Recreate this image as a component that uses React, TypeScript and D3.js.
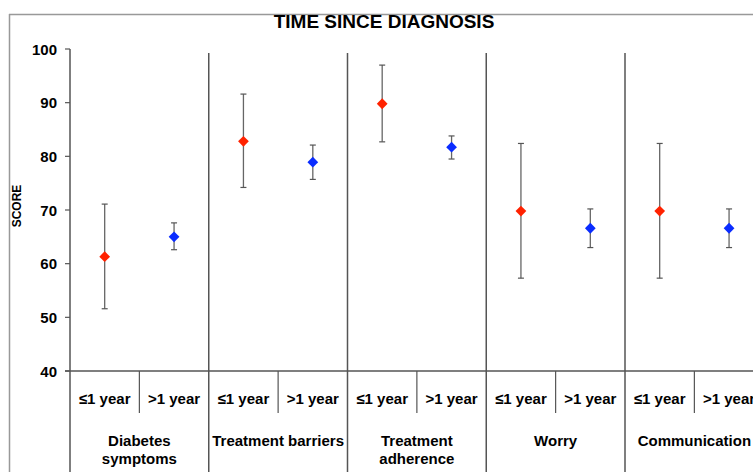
import * as d3 from 'd3'
import { useEffect, useRef } from 'react'

// categories and their wrapped labels
const categories = ['Diabetes symptoms', 'Treatment barriers', 'Treatment adherence', 'Worry', 'Communication']
const labelLines = [['Diabetes', 'symptoms'], ['Treatment barriers'], ['Treatment', 'adherence'], ['Worry'], ['Communication']]
const groups = ['≤1 year', '>1 year']

// ≤1 year
const mean1 = [61.3, 82.8, 89.8, 69.8, 69.8]
const low1 = [51.6, 74.2, 82.7, 57.3, 57.3]
const high1 = [71.1, 91.6, 97.0, 82.4, 82.4]
// >1 year
const mean2 = [65.0, 78.9, 81.7, 66.6, 66.6]
const low2 = [62.6, 75.7, 79.5, 63.0, 63.0]
const high2 = [67.6, 82.1, 83.8, 70.2, 70.2]

const yTicks = [40, 50, 60, 70, 80, 90, 100]
const colors = ['#ff2200', '#0a2cff']

export default function App() {
  const ref = useRef<SVGSVGElement>(null)

  useEffect(() => {
    const width = 753
    const height = 472
    const svg = d3.select(ref.current)
    svg.selectAll('*').remove()

    const left = 70
    const step = 138.75
    const x = d3.scaleBand().domain(categories).range([left, left + step * categories.length])
    const sub = d3.scaleBand().domain(groups).range([0, x.bandwidth()])
    const y = d3.scaleLinear().domain([40, 100]).range([371, 49])

    const font = 'Liberation Sans, Arial, sans-serif'
    const axisColor = '#555'

    // outer frame
    svg.append('line').attr('x1', 9).attr('x2', width).attr('y1', 14.5).attr('y2', 14.5)
      .attr('stroke', '#999').attr('stroke-width', 1.5)
    svg.append('line').attr('x1', 9.5).attr('x2', 9.5).attr('y1', 14).attr('y2', height)
      .attr('stroke', '#999').attr('stroke-width', 1.5)

    // title
    svg.append('text').attr('x', 384).attr('y', 28).attr('text-anchor', 'middle')
      .attr('font-family', font).attr('font-weight', 'bold').attr('font-size', 19)
      .text('TIME SINCE DIAGNOSIS')

    // y axis
    svg.append('line').attr('x1', left).attr('x2', left).attr('y1', y(100)).attr('y2', height)
      .attr('stroke', axisColor).attr('stroke-width', 1.5)
    const ty = svg.append('g')
    ty.selectAll('line').data(yTicks).join('line')
      .attr('x1', left - 5).attr('x2', left).attr('y1', d => y(d)).attr('y2', d => y(d))
      .attr('stroke', axisColor).attr('stroke-width', 1.2)
    ty.selectAll('text').data(yTicks).join('text')
      .attr('x', 57).attr('y', d => y(d) + 5.5).attr('text-anchor', 'end')
      .attr('font-family', font).attr('font-weight', 'bold').attr('font-size', 15)
      .text(d => d)

    svg.append('text').attr('transform', `translate(21,206) rotate(-90)`)
      .attr('text-anchor', 'middle').attr('font-family', font).attr('font-weight', 'bold')
      .attr('font-size', 12).text('SCORE')

    // x axis baseline
    svg.append('line').attr('x1', left - 5).attr('x2', width).attr('y1', y(40)).attr('y2', y(40))
      .attr('stroke', axisColor).attr('stroke-width', 1.5)

    // category separators
    svg.append('g').selectAll('line').data(categories.slice(1).concat(['end'])).join('line')
      .attr('x1', (d, i) => left + step * (i + 1)).attr('x2', (d, i) => left + step * (i + 1))
      .attr('y1', 53).attr('y2', height)
      .attr('stroke', axisColor).attr('stroke-width', 1.5)

    const cat = svg.append('g').selectAll('g').data(categories).join('g')
      .attr('transform', d => `translate(${x(d)},0)`)

    // sub separators
    cat.append('line').attr('x1', x.bandwidth() / 2).attr('x2', x.bandwidth() / 2)
      .attr('y1', y(40)).attr('y2', 413).attr('stroke', axisColor).attr('stroke-width', 1.2)

    // sub labels
    cat.selectAll('text.sub').data(groups).join('text').attr('class', 'sub')
      .attr('x', d => (sub(d) ?? 0) + sub.bandwidth() / 2).attr('y', 404)
      .attr('text-anchor', 'middle').attr('font-family', font).attr('font-weight', 'bold')
      .attr('font-size', 15).text(d => d)

    // category labels
    cat.append('text').attr('text-anchor', 'middle').attr('font-family', font)
      .attr('font-weight', 'bold').attr('font-size', 15)
      .selectAll('tspan').data((d, i) => labelLines[i]).join('tspan')
      .attr('x', x.bandwidth() / 2).attr('y', (d, i) => 446 + i * 18).text(d => d)

    // error bars + markers
    const series = [
      { mean: mean1, low: low1, high: high1 },
      { mean: mean2, low: low2, high: high2 },
    ]
    const diamond = d3.symbol(d3.symbolSquare, 58)
    series.forEach((s, gi) => {
      const g = svg.append('g')
      categories.forEach((c, i) => {
        const cx = (x(c) ?? 0) + (sub(groups[gi]) ?? 0) + sub.bandwidth() / 2
        g.append('line').attr('x1', cx).attr('x2', cx).attr('y1', y(s.low[i])).attr('y2', y(s.high[i]))
          .attr('stroke', '#666').attr('stroke-width', 1.3)
        ;[s.low[i], s.high[i]].forEach(v => {
          g.append('line').attr('x1', cx - 3).attr('x2', cx + 3).attr('y1', y(v)).attr('y2', y(v))
            .attr('stroke', '#555').attr('stroke-width', 1.2)
        })
        g.append('path').attr('d', diamond()!)
          .attr('transform', `translate(${cx},${y(s.mean[i])}) rotate(45)`)
          .attr('fill', colors[gi])
      })
    })
  }, [])

  return (
    <svg
      ref={ref}
      width={753}
      height={472}
      style={{ position: 'absolute', left: 0, top: 0, background: '#fff', overflow: 'hidden' }}
    />
  )
}
